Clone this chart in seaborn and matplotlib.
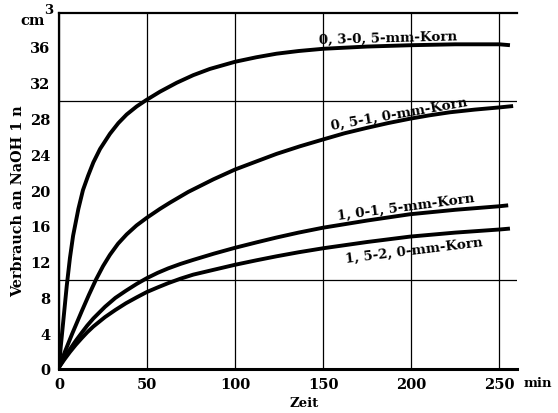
import matplotlib
matplotlib.use("Agg")
import matplotlib.pyplot as plt
from matplotlib.ticker import FixedLocator
import seaborn as sns
import pandas as pd

# Consumption of 1 n NaOH (cm^3) over time (min) for four grain sizes
t_korn_03_05 = [0, 1, 1.9, 3.0, 4.4, 6.2, 8, 11, 13.6, 16.5, 19.5, 23.3, 28.9, 33.7,
                38.4, 44.1, 49.4, 57.3, 66.8, 76.2, 85.7, 100, 112, 123.5, 136, 150,
                175, 200, 225, 250, 256]
v_korn_03_05 = [0.2, 2.5, 4.3, 6.5, 9.3, 12.4, 14.9, 17.9, 20.0, 21.6, 23.1, 24.6, 26.3, 27.5,
                28.45, 29.35, 30.05, 31.0, 32.0, 32.85, 33.55, 34.35, 34.85, 35.25, 35.55,
                35.8, 36.05, 36.2, 36.3, 36.3, 36.2]

t_korn_05_10 = [0, 3.5, 7.5, 13, 17, 21, 25, 28.9, 33.5, 38.4, 44, 49.8, 57.3, 63, 73.4,
                87.6, 99.9, 112, 123.5, 136.8, 149.7, 162, 174.6, 187, 199.2, 210,
                221.9, 236, 250.3, 257.8]
v_korn_05_10 = [0.2, 2.0, 3.95, 6.5, 8.3, 10.0, 11.5, 12.75, 14.0, 15.05, 16.05, 16.9, 17.9, 18.6,
                19.8, 21.2, 22.3, 23.2, 24.05, 24.9, 25.65, 26.35, 26.95, 27.5, 27.98,
                28.35, 28.7, 29.0, 29.25, 29.4]

t_korn_10_15 = [0, 3, 6.2, 9.5, 12.9, 16, 19.5, 26.1, 32, 38, 44, 49.8, 56, 62, 69,
                76.2, 88, 99.9, 112, 123.5, 136, 150, 175, 199.2, 225, 250.3, 255]
v_korn_10_15 = [0.2, 1.2, 2.2, 3.15, 4.05, 4.85, 5.65, 6.95, 7.95, 8.75, 9.5, 10.15, 10.75,
                11.25, 11.75, 12.2, 12.9, 13.55, 14.15, 14.7, 15.25, 15.8, 16.6, 17.3,
                17.8, 18.2, 18.3]

t_korn_15_20 = [0, 3, 6.2, 9.5, 12.9, 16, 19.5, 26.1, 32, 38, 44, 49.8, 56, 62, 69,
                76.2, 88, 99.9, 112, 123.5, 136, 150, 175, 199.2, 225, 250.3, 256]
v_korn_15_20 = [0.2, 1.05, 1.9, 2.7, 3.45, 4.1, 4.75, 5.8, 6.6, 7.35, 8.0, 8.6, 9.12,
                9.6, 10.1, 10.55, 11.1, 11.65, 12.15, 12.6, 13.05, 13.5, 14.2, 14.8,
                15.25, 15.6, 15.7]

korn_labels = ["0, 3-0, 5-mm-Korn", "0, 5-1, 0-mm-Korn",
               "1, 0-1, 5-mm-Korn", "1, 5-2, 0-mm-Korn"]

x_ticks = [0, 50, 100, 150, 200, 250]
y_ticks = [0, 4, 8, 12, 16, 20, 24, 28, 32, 36]
y_grid = [10, 20, 30]

series = [(korn_labels[0], t_korn_03_05, v_korn_03_05),
          (korn_labels[1], t_korn_05_10, v_korn_05_10),
          (korn_labels[2], t_korn_10_15, v_korn_10_15),
          (korn_labels[3], t_korn_15_20, v_korn_15_20)]
df = pd.concat([pd.DataFrame({"Zeit": t, "Verbrauch": v, "Korn": name})
                for name, t, v in series], ignore_index=True)

sns.set_style("white")
plt.rcParams["font.family"] = ["DejaVu Serif"]
plt.rcParams["font.weight"] = "bold"
for key in ["text.color", "axes.labelcolor", "xtick.color", "ytick.color",
            "axes.edgecolor"]:
    plt.rcParams[key] = "black"

W, H = 558, 414
fig = plt.figure(figsize=(W / 100, H / 100), dpi=100)
ax = fig.add_axes([59 / W, 1 - 370 / H, (517 - 59) / W, (370 - 14) / H])

sns.lineplot(data=df, x="Zeit", y="Verbrauch", hue="Korn",
             palette={k: "black" for k in korn_labels}, linewidth=2.8,
             estimator=None, sort=False, legend=False, ax=ax)
for line in ax.get_lines():
    line.set_solid_joinstyle("round")
    line.set_solid_capstyle("butt")

ax.set_xlim(0, 260)
ax.set_ylim(0, 39.8)
ax.set_xticks(x_ticks)
ax.set_yticks(y_ticks)
ax.yaxis.set_minor_locator(FixedLocator(y_grid))
ax.grid(False)
ax.grid(True, which="major", axis="x", color="black", linewidth=0.9)
ax.grid(True, which="minor", axis="y", color="black", linewidth=0.9)
ax.set_axisbelow(True)

ax.tick_params(axis="x", which="major", length=0, pad=6, labelsize=10.5,
               labelcolor="black")
ax.tick_params(axis="y", which="major", length=3, width=1, direction="out",
               color="black", pad=3, labelsize=10.5, labelcolor="black")
ax.tick_params(axis="y", which="minor", length=0)
for lab in ax.get_xticklabels() + ax.get_yticklabels():
    lab.set_fontweight("bold")

for side in ["left", "bottom", "top"]:
    ax.spines[side].set_color("black")
    ax.spines[side].set_linewidth(1.6)
ax.spines["bottom"].set_linewidth(2.2)
ax.spines["right"].set_visible(False)

ax.set_xlabel("")
ax.set_ylabel("")

# axis titles and units
fig.text(18 / W, 1 - 201 / H, "Verbrauch an NaOH 1 n", rotation=90,
         ha="center", va="center", fontsize=10.4, fontweight="bold", color="black")
fig.text(304 / W, 1 - 404 / H, "Zeit", ha="center", va="center",
         fontsize=9.5, fontweight="bold", color="black")
fig.text(538 / W, 1 - 384 / H, "min", ha="center", va="center",
         fontsize=9.5, fontweight="bold", color="black")
fig.text(33 / W, 1 - 21 / H, "cm", ha="center", va="center",
         fontsize=10.5, fontweight="bold", color="black")
fig.text(49 / W, 1 - 10 / H, "3", ha="center", va="center",
         fontsize=9.5, fontweight="bold", color="black")

# curve labels
label_pos = [(187, 37.1, 1.5), (193, 28.6, 10), (197, 18.2, 7.5), (201.5, 13.3, 7)]
for text, (lx, ly, rot) in zip(korn_labels, label_pos):
    ax.text(lx, ly, text, ha="center", va="center", rotation=rot,
            fontsize=9.6, fontweight="bold", color="black")

fig.savefig("out.png", dpi=100)
